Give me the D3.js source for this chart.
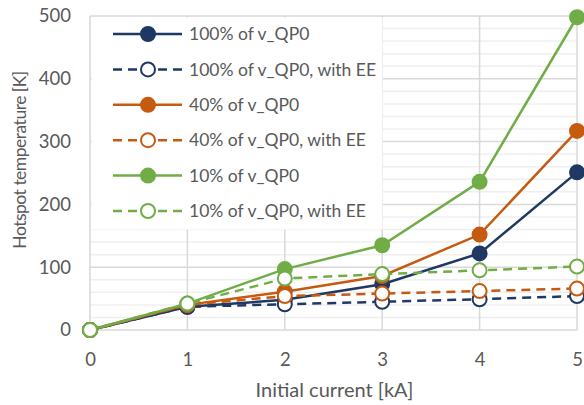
<!DOCTYPE html>
<html>
<head>
<meta charset="utf-8">
<script src="https://cdn.jsdelivr.net/npm/d3@7"></script>
<style>
  body { margin: 0; background: #fff; }
  text { font-family: Lato, "Open Sans", sans-serif; fill: #595959; }
</style>
</head>
<body>
<svg width="584" height="405"></svg>
<script>
// initial current [kA]
var current = [0, 1, 2, 3, 4, 5];

// hotspot temperature [K] for each case
var t100 = [0, 37, 48, 73, 122, 251];
var t100EE = [0, 37, 41, 45, 49, 54];
var t40 = [0, 40, 61, 86, 152, 317];
var t40EE = [0, 40, 54, 58, 62, 66];
var t10 = [0, 42, 97, 135, 236, 498];
var t10EE = [0, 42, 82, 89, 95, 101];

var seriesNames = ['100% of v_QP0', '100% of v_QP0, with EE', '40% of v_QP0',
    '40% of v_QP0, with EE', '10% of v_QP0', '10% of v_QP0, with EE'];
var yTicks = [0, 100, 200, 300, 400, 500];

var BLUE = '#203864', ORANGE = '#c55a11', GREEN = '#70ad47';

var series = [
    { name: seriesNames[0], values: t100, color: BLUE, dashed: false },
    { name: seriesNames[1], values: t100EE, color: BLUE, dashed: true },
    { name: seriesNames[2], values: t40, color: ORANGE, dashed: false },
    { name: seriesNames[3], values: t40EE, color: ORANGE, dashed: true },
    { name: seriesNames[4], values: t10, color: GREEN, dashed: false },
    { name: seriesNames[5], values: t10EE, color: GREEN, dashed: true }
];

var margin = { left: 90, right: 7, top: 16, bottom: 75 };
var width = 584, height = 405;
var svg = d3.select('svg');

var x = d3.scaleLinear().domain([0, 5]).range([margin.left, width - margin.right]);
var y = d3.scaleLinear().domain([0, 500]).range([height - margin.bottom, margin.top]);

// minor gridlines every 20 K
svg.append('g').selectAll('line')
    .data(d3.range(20, 500, 20).filter(function (v) { return v % 100 !== 0; }))
    .enter().append('line')
    .attr('x1', x(0)).attr('x2', x(5))
    .attr('y1', function (d) { return y(d); })
    .attr('y2', function (d) { return y(d); })
    .attr('stroke', '#efefef').attr('stroke-width', 1.5);

// major gridlines
svg.append('g').selectAll('line')
    .data(yTicks)
    .enter().append('line')
    .attr('x1', x(0)).attr('x2', x(5))
    .attr('y1', function (d) { return y(d); })
    .attr('y2', function (d) { return y(d); })
    .attr('stroke', '#d9d9d9').attr('stroke-width', 1.5);

svg.append('g').selectAll('line')
    .data(current)
    .enter().append('line')
    .attr('y1', y(0)).attr('y2', y(500))
    .attr('x1', function (d) { return x(d); })
    .attr('x2', function (d) { return x(d); })
    .attr('stroke', '#d9d9d9').attr('stroke-width', 1.5);

// axes (labels only, Excel style)
var yAxis = svg.append('g')
    .attr('transform', 'translate(' + (margin.left - 7) + ',0)')
    .call(d3.axisLeft(y).tickValues(yTicks).tickSize(0).tickPadding(12));
yAxis.select('.domain').remove();
yAxis.selectAll('text').style('font-size', '18.5px').attr('fill', '#595959')
    .style('font-family', 'Lato, sans-serif');

var xAxis = svg.append('g')
    .attr('transform', 'translate(0,' + y(0) + ')')
    .call(d3.axisBottom(x).tickValues(current).tickSize(0).tickPadding(36)
        .tickFormat(d3.format('d')));
xAxis.select('.domain').remove();
xAxis.selectAll('text').attr('dy', 0).style('font-size', '18.5px').attr('fill', '#595959')
    .style('font-family', 'Lato, sans-serif');

svg.append('text')
    .attr('x', (x(0) + x(5)) / 2 + 1).attr('y', 397)
    .attr('text-anchor', 'middle')
    .style('font-size', '20px')
    .text('Initial current [kA]');

svg.append('text')
    .attr('transform', 'translate(26,160) rotate(-90)')
    .attr('text-anchor', 'middle')
    .style('font-size', '17.5px')
    .style('letter-spacing', '-0.5px')
    .text('Hotspot temperature [K]');

// legend background sits over the gridlines
svg.append('rect')
    .attr('x', x(0) + 1.5).attr('y', y(500) + 1.5)
    .attr('width', 291).attr('height', 212)
    .attr('fill', '#fff');

var line = d3.line()
    .x(function (d, i) { return x(current[i]); })
    .y(function (d) { return y(d); });

series.forEach(function (s) {
    var g = svg.append('g');
    g.append('path')
        .datum(s.values)
        .attr('d', line)
        .attr('fill', 'none')
        .attr('stroke', s.color)
        .attr('stroke-width', 2.5)
        .attr('stroke-dasharray', s.dashed ? '9,6' : null);
    g.selectAll('circle')
        .data(s.values)
        .enter().append('circle')
        .attr('cx', function (d, i) { return x(current[i]); })
        .attr('cy', function (d) { return y(d); })
        .attr('r', 7)
        .attr('fill', s.dashed ? '#fff' : s.color)
        .attr('stroke', s.color)
        .attr('stroke-width', 2);
});

// legend
var legend = svg.append('g').selectAll('g')
    .data(series)
    .enter().append('g')
    .attr('transform', function (d, i) { return 'translate(0,' + (34 + i * 35.4) + ')'; });

legend.append('line')
    .attr('x1', 113).attr('x2', 182)
    .attr('stroke', function (d) { return d.color; })
    .attr('stroke-width', 2.5)
    .attr('stroke-dasharray', function (d) { return d.dashed ? '9,6' : null; });
legend.append('circle')
    .attr('cx', 148).attr('r', 7)
    .attr('fill', function (d) { return d.dashed ? '#fff' : d.color; })
    .attr('stroke', function (d) { return d.color; })
    .attr('stroke-width', 2);
legend.append('text')
    .attr('x', 189).attr('dy', '0.35em')
    .style('font-size', '17.5px')
    .text(function (d) { return d.name; });
</script>
</body>
</html>
